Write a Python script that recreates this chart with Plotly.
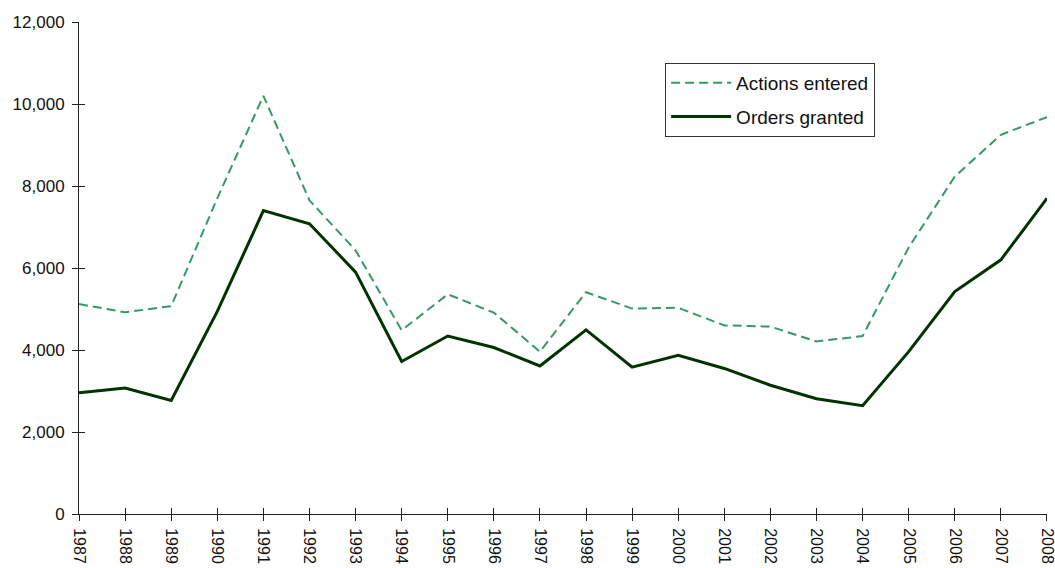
import plotly.graph_objects as go

# Annual figures, 1987-2008
years = list(range(1987, 2009))
actions_entered = [5120, 4920, 5070, 7700, 10200, 7650, 6430, 4480, 5360, 4910, 3960,
                   5410, 5010, 5030, 4600, 4570, 4210, 4340, 6500, 8230, 9250, 9680]
orders_granted = [2960, 3070, 2770, 4940, 7400, 7080, 5900, 3720, 4340, 4060, 3610,
                  4490, 3580, 3870, 3550, 3140, 2810, 2640, 3960, 5425, 6200, 7700]
y_ticks = [0, 2000, 4000, 6000, 8000, 10000, 12000]

FONT = "Liberation Sans, Arial, sans-serif"
AXIS_COLOR = "#222222"

fig = go.Figure()
fig.add_trace(go.Scatter(
    x=years, y=actions_entered, name="Actions entered", mode="lines",
    line=dict(color="#339966", width=2, dash="9px,5px"), legendgroup="a",
))
# second series lives on the overlaid (matched) axes, which carry the inner half of the cross ticks
fig.add_trace(go.Scatter(
    x=years, y=orders_granted, name="Orders granted", mode="lines",
    line=dict(color="#003300", width=3), legendgroup="b",
    xaxis="x2", yaxis="y2",
))

y_tick_font = dict(family=FONT, size=17, color="#111111")
x_tick_font = dict(family=FONT, size=16, color="#111111")
x_range = [1986.9995, 2008.0005]

fig.update_layout(
    width=1055, height=568,
    margin=dict(l=79, r=8, t=22, b=54, autoexpand=False),
    paper_bgcolor="white", plot_bgcolor="white",
    font=dict(family=FONT, size=17, color="#111111"),
    showlegend=True,
    legend=dict(
        x=0.6055, y=0.9167, xanchor="left", yanchor="top",
        bgcolor="white", bordercolor="#333333", borderwidth=1,
        font=dict(family=FONT, size=19, color="#111111"),
        tracegroupgap=6, itemwidth=60,
    ),
    xaxis=dict(
        range=x_range, tickmode="array", tickvals=years,
        ticktext=[str(y) for y in years], tickangle=90,
        ticks="outside", ticklen=6, tickcolor=AXIS_COLOR, tickwidth=1,
        showline=True, linecolor=AXIS_COLOR, linewidth=1,
        showgrid=False, zeroline=False, tickfont=x_tick_font,
        ticklabelstandoff=4, ticklabeloverflow="allow", automargin=False,
    ),
    xaxis2=dict(
        overlaying="x", matches="x", anchor="y2", side="bottom",
        tickmode="array", tickvals=years, showticklabels=False,
        ticks="inside", ticklen=6, tickcolor=AXIS_COLOR, tickwidth=1,
        showline=False, showgrid=False, zeroline=False,
    ),
    yaxis=dict(
        range=[0, 12000], tickmode="array", tickvals=y_ticks, tickformat=",d",
        ticks="outside", ticklen=6, tickcolor=AXIS_COLOR, tickwidth=1,
        showline=True, linecolor=AXIS_COLOR, linewidth=1,
        showgrid=False, zeroline=False, tickfont=y_tick_font,
        ticklabelstandoff=4, automargin=False,
    ),
    yaxis2=dict(
        overlaying="y", matches="y", anchor="x2", side="left",
        tickmode="array", tickvals=y_ticks, showticklabels=False,
        ticks="inside", ticklen=6, tickcolor=AXIS_COLOR, tickwidth=1,
        showline=False, showgrid=False, zeroline=False,
    ),
)

fig.write_html("out.html")
